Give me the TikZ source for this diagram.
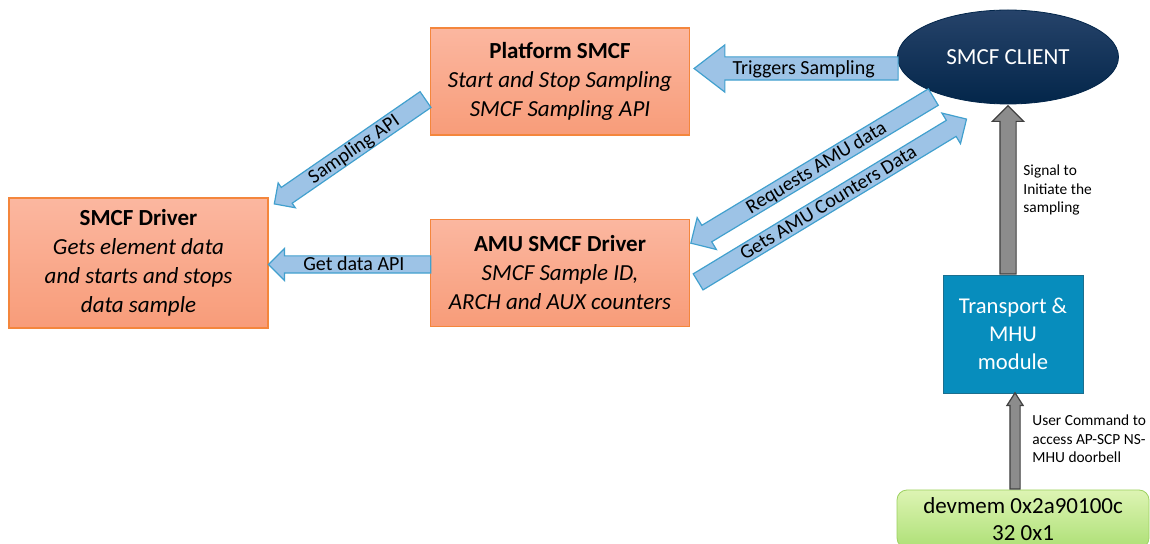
\documentclass[tikz,border=0pt]{standalone}
\usepackage{fontspec}
\setmainfont{Carlito}
\usetikzlibrary{positioning,shapes,arrows,calc}

\definecolor{boxtop}{HTML}{FBB7A0}
\definecolor{boxbot}{HTML}{F89C79}
\definecolor{boxline}{HTML}{F4863C}
\definecolor{arrfill}{HTML}{9DC3E6}
\definecolor{arrline}{HTML}{41A0CE}
\definecolor{clitop}{HTML}{26436A}
\definecolor{clibot}{HTML}{03264A}
\definecolor{mhufill}{HTML}{078DBD}
\definecolor{mhuline}{HTML}{1B6F8F}
\definecolor{grayfill}{HTML}{8C8C8C}
\definecolor{grayline}{HTML}{404040}
\definecolor{cmdtop}{HTML}{DDF4B3}
\definecolor{cmdbot}{HTML}{AEE077}
\definecolor{cmdline}{HTML}{9DD161}

\tikzset{
  drvbox/.style={draw=boxline, line width=0.6pt, top color=boxtop, bottom color=boxbot, align=center,
    minimum width=129.5pt, minimum height=53.5pt, inner sep=2pt, font=\fontsize{11.5}{14.5}\selectfont},
  client/.style={ellipse, draw=clibot, top color=clitop, bottom color=clibot, text=white,
    minimum width=110.5pt, minimum height=47pt, font=\fontsize{11.5}{14}\selectfont},
  mhubox/.style={draw=mhuline, fill=mhufill, text=white, align=center, minimum width=70pt,
    minimum height=59pt, inner sep=1pt, font=\fontsize{11.3}{14}\selectfont},
  cmdbox/.style={draw=cmdline, top color=cmdtop, bottom color=cmdbot, rounded corners=5pt, align=center,
    minimum width=126pt, minimum height=29pt, inner sep=1pt, font=\fontsize{11.5}{13.5}\selectfont},
  blockarrow/.style={single arrow, draw=arrline, fill=arrfill, line width=0.6pt, inner xsep=0pt,
    inner ysep=0pt, font=\fontsize{10}{12}\selectfont},
  grayarrow/.style={single arrow, draw=grayline, fill=grayfill, line width=0.6pt, inner sep=0pt},
  shaft/.style args={#1/#2}{text height=#1, text depth=#2},
  smalllbl/.style={align=left, inner sep=0pt, font=\fontsize{7.7}{9.3}\selectfont}
}

\newcommand{\arrowshape}[4][]{%
  \path let \p1=($(#3)-(#2)$), \n1={atan2(\y1,\x1)}, \n2={veclen(\x1,\y1)} in
    node[anchor=tail, #1, minimum height=\n2, rotate=\n1] at (#2) {#4};}

\begin{document}
\begin{tikzpicture}[x=0.5pt,y=-0.5pt]
  \useasboundingbox (0,0) rectangle (1150,544);
  \node[drvbox] (plat) at (560,81.5) {\textbf{Platform SMCF}\\\textit{Start and Stop Sampling}\\\textit{SMCF Sampling API}};
  \node[drvbox,below=41.5pt of plat] (amu) {\textbf{AMU SMCF Driver}\\\textit{SMCF Sample ID,}\\\textit{ARCH and AUX counters}};
  \node[drvbox,minimum height=65pt] (drv) at (138.5,263) {\textbf{SMCF Driver}\\\textit{Gets element data}\\\textit{and starts and stops}\\\textit{data sample}};
  \node[client] (cli) at (1008,57) {SMCF CLIENT};
  \node[mhubox] (mhu) at (1013,334) {Transport \&\\MHU\\module};
  \node[cmdbox] (cmd) at (1023,519) {devmem 0x2a90100c\\32 0x1};

  \coordinate (trgtip) at ($(plat.east)+(3,-13)$);
  \coordinate (trgtail) at (trgtip -| cli.west);
  \coordinate (samtip) at ($(drv.north east)+(5,7)$);
  \coordinate (samtail) at ($(plat.west)+(-5,18.5)$);
  \coordinate (gettip) at ($(drv.east)+(-1,1.5)$);
  \coordinate (gettail) at (gettip -| amu.west);
  \coordinate (reqtail) at ($(cli.south west)+(3,7)$);
  \coordinate (reqtip) at ($(amu.north east)+(0,25)$);
  \coordinate (cnttail) at ($(amu.east)+(7.5,9.5)$);
  \coordinate (cnttip) at ($(cli.south)+(-42,15)$);
  \coordinate (sigtail) at (cli.south |- mhu.north);
  \coordinate (sigtip) at ($(cli.south)+(0,2)$);
  \coordinate (usrtip) at ($(mhu.south)+(2,0)$);
  \coordinate (usrtail) at (usrtip |- cmd.north);

  \arrowshape[blockarrow,shaft=8.5pt/2.5pt,single arrow head extend=6pt,single arrow tip angle=75,shape border rotate=180,anchor=tip]{trgtip}{trgtail}{Triggers Sampling}
  \arrowshape[blockarrow,shaft=7.5pt/1.5pt,single arrow head extend=2.75pt,shape border rotate=180,anchor=tip]{samtip}{samtail}{Sampling API}
  \arrowshape[blockarrow,shaft=7pt/1pt,single arrow head extend=3.75pt,shape border rotate=180,anchor=tip]{gettip}{gettail}{Get data API}
  \arrowshape[blockarrow,shaft=7.5pt/1.5pt,single arrow head extend=4.5pt,shape border rotate=180,anchor=tip]{reqtip}{reqtail}{Requests AMU data}
  \arrowshape[blockarrow,shaft=7.4pt/1.4pt,single arrow head extend=4.25pt]{cnttail}{cnttip}{Gets AMU Counters Data}
  \arrowshape[grayarrow,shaft=3.75pt/3.75pt,single arrow head extend=3.75pt]{sigtail}{sigtip}{}
  \arrowshape[grayarrow,shaft=2.25pt/2.25pt,single arrow head extend=1.5pt,single arrow tip angle=65]{usrtail}{usrtip}{}

  \node[smalllbl,anchor=west] (siglbl) at (1023,190) {Signal to\\Initiate the\\sampling};
  \node[smalllbl,anchor=west] (usrlbl) at (1032,439) {User Command to\\access AP-SCP NS-\\MHU doorbell};
\end{tikzpicture}
\end{document}
